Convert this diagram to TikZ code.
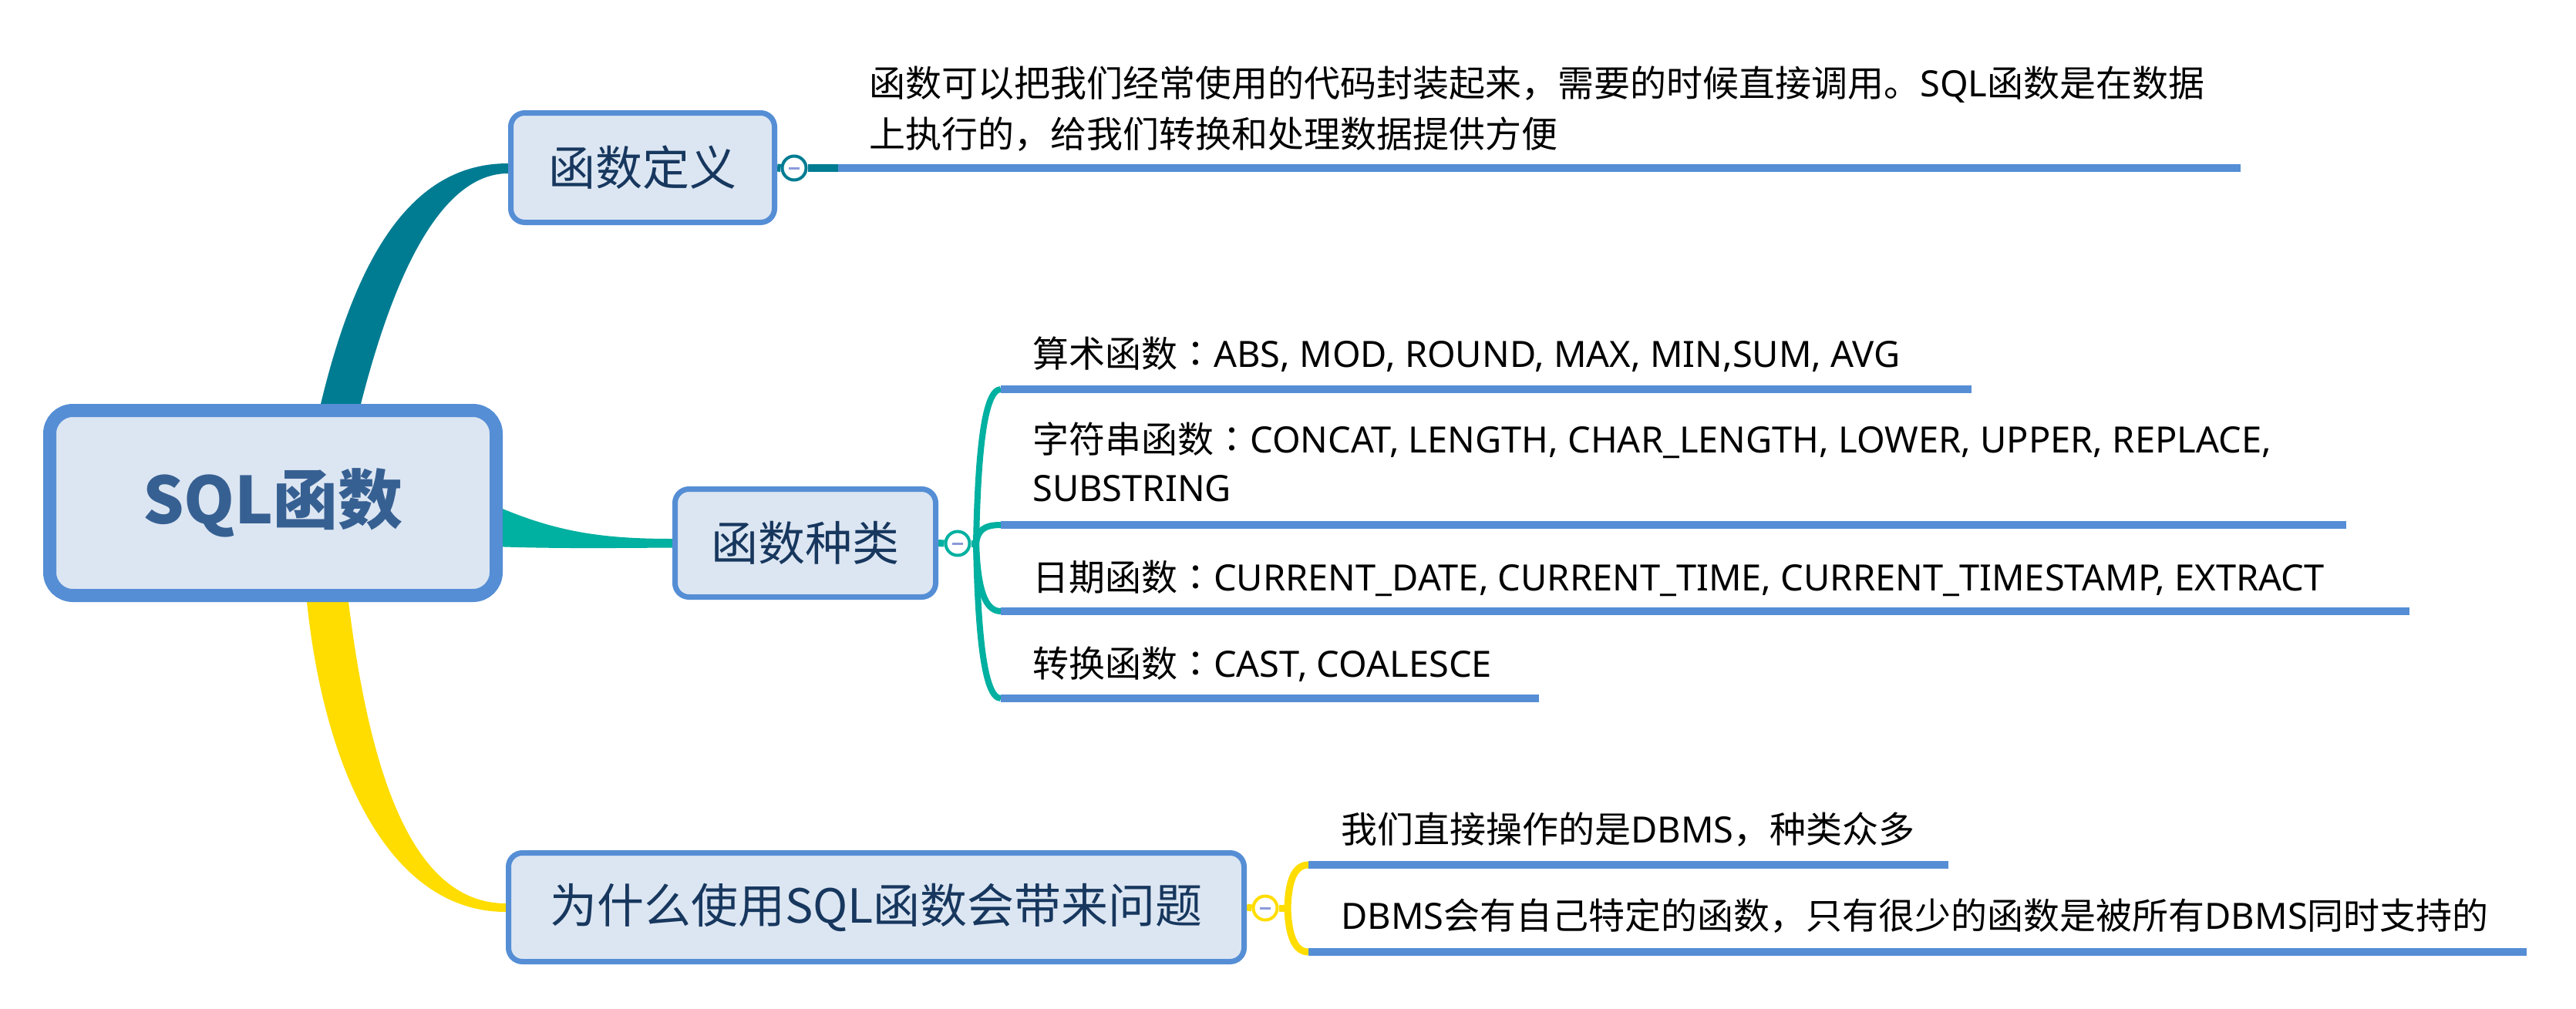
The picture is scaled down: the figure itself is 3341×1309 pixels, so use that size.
\documentclass[tikz,border=0pt]{standalone}
\usepackage{fontspec}
\setmainfont{Noto Sans CJK SC}
\newfontfamily\latf{Noto Sans}
\newfontfamily\jpf{Noto Sans CJK JP}
\newcommand{\zcolon}{{\jpf ：}}
\usetikzlibrary{calc}
\definecolor{boxfill}{HTML}{DCE6F2}
\definecolor{boxline}{HTML}{558ED5}
\definecolor{roottext}{HTML}{376092}
\definecolor{topictext}{HTML}{17375E}
\definecolor{tealA}{HTML}{007C92}
\definecolor{tealB}{HTML}{00B0A0}
\definecolor{yel}{HTML}{FFDD00}
\definecolor{minuscol}{HTML}{8B9BD9}
\pgfdeclarelayer{bg}
\pgfsetlayers{bg,main}
\begin{document}
\begin{tikzpicture}[x=1pt,y=-1pt,
  rootbox/.style={draw=boxline, fill=boxfill, line width=17pt, rounded corners=30pt,
    minimum width=579pt, minimum height=240pt, inner sep=0pt, text=roottext,
    font=\fontsize{84pt}{84pt}\selectfont\bfseries},
  topicbox/.style={draw=boxline, fill=boxfill, line width=7pt, rounded corners=18pt,
    inner sep=0pt, text=topictext, font=\fontsize{61pt}{61pt}\selectfont},
  toggle/.style={circle, draw=#1, fill=white, line width=4pt, minimum size=31pt, inner sep=0pt},
  leaf/.style={anchor=base west, inner sep=0pt, text=black, font=\fontsize{47pt}{63pt}\selectfont},
  uline/.style={draw=boxline, line width=10pt},
  minusbar/.style={draw=minuscol, line width=3pt},
]
\useasboundingbox (0,0) rectangle (3341,1309);

% main topics
\node[rootbox] (root) at (354,652.5) {SQL函数};
\node[topicbox, minimum width=342pt, minimum height=142pt] (def) at (833.5,217.5) {函数定义};
\node[topicbox, minimum width=338pt, minimum height=140pt] (kind) at (1044.5,704.5) {函数种类};
\node[topicbox, minimum width=954pt, minimum height=141pt] (why) at (1136.5,1177) {为什么使用SQL函数会带来问题};

% toggles
\node[toggle=tealA] (t1) at (1030,218) {};
\node[toggle=tealB] (t2) at (1242,705) {};
\node[toggle=yel] (t3) at (1641,1178) {};
\draw[minusbar] ([xshift=-7pt]t1.center) -- ([xshift=7pt]t1.center);
\draw[minusbar] ([xshift=-7pt]t2.center) -- ([xshift=7pt]t2.center);
\draw[minusbar] ([xshift=-7pt]t3.center) -- ([xshift=7pt]t3.center);

% junction / underline start coordinates
\coordinate (u0) at (1087,218);
\coordinate (j2) at (1266,705);
\coordinate (u1) at (1298,505);
\coordinate (u2) at (1298,681);
\coordinate (u3) at (1298,793);
\coordinate (u4) at (1298,906);
\coordinate (j3) at (1670,1178);
\coordinate (u5) at (1697,1122);
\coordinate (u6) at (1697,1235);

% leaf texts
\node[leaf, font=\fontsize{47pt}{66pt}\selectfont] (d1) at (1127,125)
  {\begin{tabular}[t]{@{}l@{}}函数可以把我们经常使用的代码封装起来，需要的时候直接调用。{\latf SQL}函数是在数据\\上执行的，给我们转换和处理数据提供方便\end{tabular}};
\node[leaf] (k1) at (1339,476) {算术函数\zcolon{\latf ABS, MOD, ROUND, MAX, MIN,SUM, AVG}};
\node[leaf] (k2) at (1339,587)
  {\begin{tabular}[t]{@{}l@{}}字符串函数\zcolon{\latf CONCAT, LENGTH, CHAR\_LENGTH, LOWER, UPPER, REPLACE,}\\{\latf SUBSTRING}\end{tabular}};
\node[leaf] (k3) at (1339,766) {日期函数\zcolon{\latf CURRENT\_DATE, CURRENT\_TIME, CURRENT\_TIMESTAMP, EXTRACT}};
\node[leaf] (k4) at (1339,878) {转换函数\zcolon{\latf CAST, COALESCE}};
\node[leaf] (w1) at (1739,1093) {我们直接操作的是{\latf DBMS}，种类众多};
\node[leaf] (w2) at (1739,1205) {{\latf DBMS}会有自己特定的函数，只有很少的函数是被所有{\latf DBMS}同时支持的};

% underlines
\draw[uline] (u0) -- (2906,218);
\draw[uline] (u1) -- (2557,505);
\draw[uline] (u2) -- (3043,681);
\draw[uline] (u3) -- (3125,793);
\draw[uline] (u4) -- (1996,906);
\draw[uline] (u5) -- (2527,1122);
\draw[uline] (u6) -- (3277,1235);

\begin{pgfonlayer}{bg}
\fill[white] (0,0) rectangle (3341,1309);
% tapered main branches
\fill[tealA] ([xshift=62pt]root.north) .. controls (465,320) and (540,212) .. ([yshift=5.5pt]def.west)
  -- ([yshift=-7.5pt]def.west) .. controls (585,225) and (520,320) .. ([xshift=114pt]root.north) -- cycle;
\fill[tealB] ([shift={(-12,2.5)}]root.east) .. controls (720,690) and (780,699) .. ([yshift=5.5pt]kind.west)
  -- ([yshift=-6pt]kind.west) .. controls (800,711) and (720,712) .. ([shift={(-12,56.5)}]root.east) -- cycle;
\fill[yel] ([xshift=44pt]root.south) .. controls (422,1010) and (510,1183) .. ([yshift=-6pt]why.west)
  -- ([yshift=5pt]why.west) .. controls (530,1172) and (478,990) .. ([xshift=98pt]root.south) -- cycle;
% stubs
\draw[tealA, line width=10pt] (def.east) -- (t1.west);
\draw[tealA, line width=10pt] (t1.east) -- (u0);
\draw[tealB, line width=9pt] (kind.east) -- (t2.west);
\draw[tealB, line width=9pt] (t2.east) -- (j2);
\draw[yel, line width=9pt] (why.east) -- (t3.west);
\draw[yel, line width=9pt] (t3.east) -- (j3);
% brackets
\draw[tealB, line width=8pt] (j2) .. controls (1268,600) and (1275,505) .. (u1);
\draw[tealB, line width=8pt] (j2) .. controls (1268,688) and (1276,681) .. (u2);
\draw[tealB, line width=8pt] (j2) .. controls (1268,760) and (1276,793) .. (u3);
\draw[tealB, line width=8pt] (j2) .. controls (1268,810) and (1275,906) .. (u4);
\draw[yel, line width=9pt] (j3) .. controls (1671,1140) and (1680,1122) .. (u5);
\draw[yel, line width=9pt] (j3) .. controls (1671,1215) and (1680,1235) .. (u6);
\end{pgfonlayer}
\end{tikzpicture}
\end{document}
